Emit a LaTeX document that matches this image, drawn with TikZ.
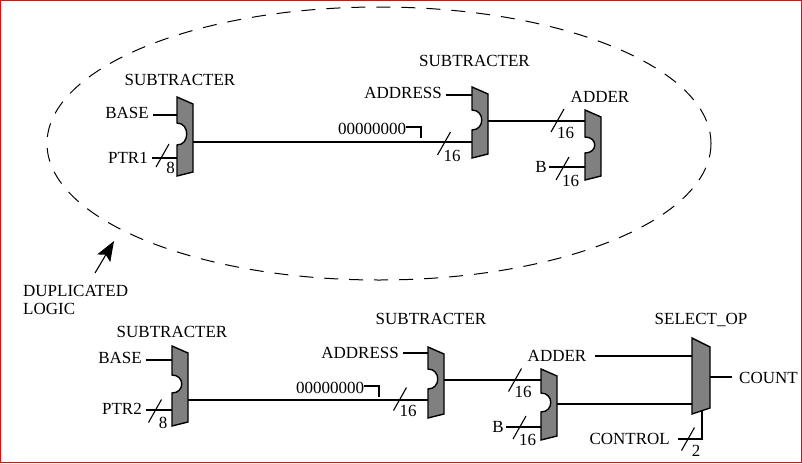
\documentclass[tikz,border=0pt]{standalone}
\usepackage{fontspec}
\setmainfont{Liberation Serif}
\usetikzlibrary{arrows.meta}

\tikzset{
    boxline/.style={draw=black, fill=black!50, line width=1.4pt, line join=miter},
    wire/.style={line width=1.1pt},
    lab/.style={inner sep=0pt, font=\fontsize{17}{18}\selectfont},
}

% name, x, top, bottom, notch top, notch bottom, input a, input b, output
\newcommand{\notchbox}[9]{
    \draw[boxline] (#2,#3) -- (#2+16,#3+7) -- (#2+16,#4-4) -- (#2,#4) -- (#2,#6)
        .. controls (#2+13,#6) and (#2+13,#5) .. (#2,#5) -- cycle;
    \coordinate (#1a) at (#2,#7);
    \coordinate (#1b) at (#2,#8);
    \coordinate (#1o) at (#2+16,#9);
}

\begin{document}
\begin{tikzpicture}[x=1pt,y=-1pt]
    \useasboundingbox (0,0) rectangle (802,463);
    \draw[red, line width=1.5pt] (0.7,0.7) rectangle (801.3,462.3);

    % Duplicated logic
    \draw[line width=1pt, dash pattern=on 14pt off 11pt] (379,143.5) ellipse [x radius=332, y radius=136.5];
    \node[lab, align=left, anchor=west] (duplab) at (23,300) {DUPLICATED\\LOGIC};
    \coordinate (duptail) at (95,273);
    \coordinate (duptip) at (114,241);
    \draw[wire, -{Stealth[length=20pt, width=15pt, inset=4pt]}] (duptail) -- (duptip);

    % Boxes, upper part
    \notchbox{suba}{177}{97}{176}{123}{145}{115}{158}{142}
    \notchbox{subb}{472}{87}{158}{110}{130}{95}{142}{121}
    \notchbox{adda}{585}{110}{180}{137}{153}{121}{167}{140}

    % Boxes, lower part
    \notchbox{subc}{172}{346}{426}{375}{393}{360}{410}{400}
    \notchbox{subd}{428}{347}{418}{369}{389}{353}{400}{380}
    \notchbox{addb}{541}{369}{440}{393}{412}{380}{427}{404}
    \draw[boxline] (692,338) -- (710,347) -- (710,408) -- (692,414) -- cycle;
    \coordinate (sela) at (692,356);
    \coordinate (selb) at (692,404);
    \coordinate (selo) at (710,377);
    \coordinate (selc) at (702,411);

    % Titles
    \node[lab] (titlea) at (180,80) {SUBTRACTER};
    \node[lab] (titleb) at (474.5,61) {SUBTRACTER};
    \node[lab] (titlec) at (600,97) {ADDER};
    \node[lab] (titled) at (172,332) {SUBTRACTER};
    \node[lab] (titlee) at (431,319) {SUBTRACTER};
    \node[lab] (titlef) at (557,356) {ADDER};
    \node[lab] (titleg) at (701,320) {SELECT\_OP};

    % Input labels
    \node[lab, anchor=east] (basea) at (149,113) {BASE};
    \node[lab, anchor=east] (ptra) at (148,158) {PTR1};
    \node[lab, anchor=east] (addra) at (442,93) {ADDRESS};
    \node[lab, anchor=east] (ba) at (547,167) {B};
    \node[lab, anchor=east] (baseb) at (142,358) {BASE};
    \node[lab, anchor=east] (ptrb) at (142,409) {PTR2};
    \node[lab, anchor=east] (addrb) at (399,353) {ADDRESS};
    \node[lab, anchor=east] (bb) at (504,427) {B};
    \node[lab, anchor=east] (ctrl) at (670,439) {CONTROL};
    \node[lab, anchor=west] (count) at (739,378) {COUNT};

    % Wires, upper part
    \draw[wire, shorten <=4pt] (basea.east |- subaa) -- (subaa);
    \draw[wire, shorten <=4pt] (ptra.east |- subab) -- (subab);
    \draw[wire, shorten <=4pt] (addra.east |- subba) -- (subba);
    \draw[wire] (subao) -- (subbb);
    \draw[wire] (subbo) -- (addaa);
    \draw[wire, shorten <=2pt] (ba.east |- addab) -- (addab);

    % Wires, lower part
    \draw[wire, shorten <=4pt] (baseb.east |- subca) -- (subca);
    \draw[wire, shorten <=4pt] (ptrb.east |- subcb) -- (subcb);
    \draw[wire, shorten <=4pt] (addrb.east |- subda) -- (subda);
    \draw[wire] (subco) -- (subdb);
    \draw[wire] (subdo) -- (addba);
    \draw[wire, shorten <=2pt] (bb.east |- addbb) -- (addbb);
    \draw[wire, shorten <=9pt] (titlef.east |- sela) -- (sela);
    \draw[wire] (addbo) -- (selb);
    \draw[wire, shorten >=7pt] (selo) -- (count.west |- selo);
    \draw[wire, shorten <=8pt] (ctrl.east) -- (selc |- ctrl.east) -- (selc);

    % Bus marks
    \foreach \name/\cx/\cy/\width in {buea/162.5/155.5/8, bueb/444/143.5/16, buec/557.5/120.5/16, bued/562.5/168.5/16,
        buee/155/411/8, buef/400/399/16, bueg/515/380/16, bueh/519.5/427.5/16, buei/688/439/2} {
        \draw[wire] (\cx-6.5,\cy+11.5) -- (\cx+6.5,\cy-11.5);
        \node[lab] (\name) at (\cx+8,\cy+12) {\width};
    }

    % Constant inputs
    \node[lab, anchor=west] (zeroa) at (338,129) {00000000};
    \coordinate (zeroaend) at (421,138);
    \draw[wire] (zeroa.east |- 0,127) -- ++(3,0) -| (zeroaend);
    \node[lab, anchor=west] (zerob) at (296,388) {00000000};
    \coordinate (zerobend) at (379,397);
    \draw[wire] (zerob.east |- 0,386) -- ++(3,0) -| (zerobend);
\end{tikzpicture}
\end{document}
